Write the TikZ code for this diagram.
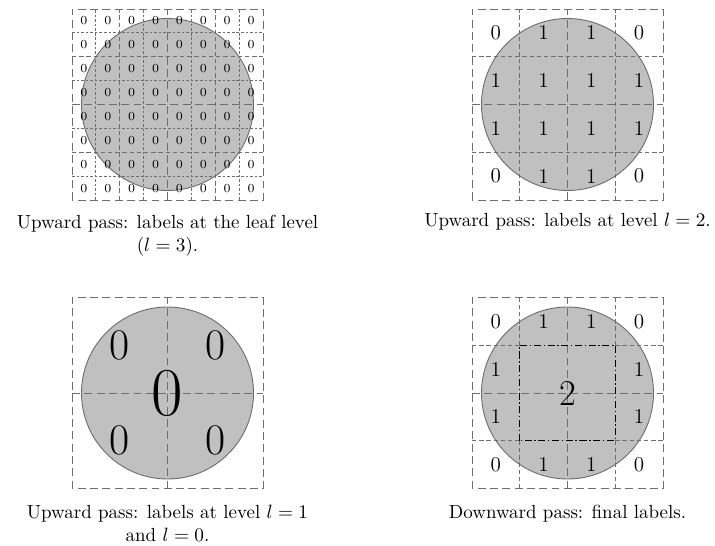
\documentclass[tikz,border=0pt]{standalone}
\usepackage{amsmath,amssymb}
\usetikzlibrary{positioning}
\definecolor{ink}{HTML}{000000}
\definecolor{gridgray}{HTML}{6E6E6E}
\definecolor{discfill}{HTML}{C0C0C0}
\definecolor{discedge}{HTML}{6A6A6A}
\definecolor{paper}{HTML}{FFFFFF}
\tikzset{
  disc/.style={draw=discedge,fill=discfill,line width=0.5pt},
  lvlone/.style={draw=gridgray,line width=0.55pt,dash pattern=on 4.5pt off 2.5pt},
  lvltwo/.style={draw=gridgray,line width=0.5pt,dash pattern=on 2.5pt off 1.6pt},
  lvlthree/.style={draw=gridgray,line width=0.45pt,dash pattern=on 1.5pt off 1.1pt},
  mergebox/.style={draw=ink,line width=0.6pt,dash pattern=on 4pt off 1.5pt on 0.8pt off 1.5pt},
  frame/.style={minimum size=3.82cm,inner sep=0pt,outer sep=0pt},
  caption/.style={align=center,inner sep=0pt,font=\fontsize{10.8}{13}\selectfont},
  leaflab/.style={font=\scriptsize,inner sep=0pt},
  midlab/.style={font=\large,inner sep=0pt},
  toplab/.style={font=\Huge,inner sep=0pt},
  rootlab/.style={font=\fontsize{39}{40}\selectfont,inner sep=0pt}
}

\begin{document}
\begin{tikzpicture}[x=1cm,y=1cm]
  \useasboundingbox[fill=paper] (0,0) rectangle (14.3,-10.92);

  % leaf level, l = 3
  \begin{scope}[shift={(1.44,-4.00)}]
    \fill[disc] (1.91,1.91) circle (1.72);
    \foreach \p in {0.4775,1.4325,2.3875,3.3425} {
      \draw[lvlthree] (\p,0) -- (\p,3.82);
      \draw[lvlthree] (0,\p) -- (3.82,\p);
    }
    \foreach \p in {0.955,2.865} {
      \draw[lvltwo] (\p,0) -- (\p,3.82);
      \draw[lvltwo] (0,\p) -- (3.82,\p);
    }
    \draw[lvlone] (0,0) rectangle (3.82,3.82);
    \draw[lvlone] (1.91,0) -- (1.91,3.82) (0,1.91) -- (3.82,1.91);
    \node[frame] (frameA) at (1.91,1.91) {};
    \foreach \i in {0,...,7}
      \foreach \j in {0,...,7}
        \node[leaflab] (a-\i-\j) at ({(\i+0.5)*0.4775},{(\j+0.5)*0.4775}) {0};
  \end{scope}
  \node[caption,below=0.3cm of frameA] (capA)
    {Upward pass: labels at the leaf level\\($l=3$).};

  % level l = 2
  \begin{scope}[shift={(9.44,-4.00)}]
    \fill[disc] (1.91,1.91) circle (1.72);
    \foreach \p in {0.955,2.865} {
      \draw[lvltwo] (\p,0) -- (\p,3.82);
      \draw[lvltwo] (0,\p) -- (3.82,\p);
    }
    \draw[lvlone] (0,0) rectangle (3.82,3.82);
    \draw[lvlone] (1.91,0) -- (1.91,3.82) (0,1.91) -- (3.82,1.91);
    \node[frame] (frameB) at (1.91,1.91) {};
    \foreach \j/\labs in {3/{0,1,1,0},2/{1,1,1,1},1/{1,1,1,1},0/{0,1,1,0}}
      \foreach \v [count=\i from 0] in \labs
        \node[midlab] (b-\i-\j) at ({(\i+0.5)*0.955},{(\j+0.5)*0.955}) {\v};
  \end{scope}
  \node[caption,below=0.26cm of frameB] (capB)
    {Upward pass: labels at level $l=2$.};

  % levels l = 1 and l = 0
  \begin{scope}[shift={(1.44,-9.77)}]
    \fill[disc] (1.91,1.91) circle (1.72);
    \draw[lvlone] (0,0) rectangle (3.82,3.82);
    \draw[lvlone] (1.91,0) -- (1.91,3.82) (0,1.91) -- (3.82,1.91);
    \node[frame] (frameC) at (1.91,1.91) {};
    \foreach \i in {0,1}
      \foreach \j in {0,1}
        \node[toplab] (c-\i-\j) at ({(\i+0.5)*1.91},{(\j+0.5)*1.91}) {0};
    \node[rootlab] (croot) at (1.91,1.91) {0};
  \end{scope}
  \node[caption,below=0.32cm of frameC] (capC)
    {Upward pass: labels at level $l=1$\\and $l=0$.};

  % downward pass
  \begin{scope}[shift={(9.44,-9.77)}]
    \fill[disc] (1.91,1.91) circle (1.72);
    \foreach \p in {0.955,2.865} {
      \draw[lvltwo] (\p,0) -- (\p,0.955) (\p,2.865) -- (\p,3.82);
      \draw[lvltwo] (0,\p) -- (0.955,\p) (2.865,\p) -- (3.82,\p);
    }
    \draw[lvlone] (0,0) rectangle (3.82,3.82);
    \draw[lvlone] (1.91,0) -- (1.91,3.82) (0,1.91) -- (3.82,1.91);
    \draw[mergebox] (0.955,0.955) rectangle (2.865,2.865);
    \node[frame] (frameD) at (1.91,1.91) {};
    \foreach \j/\labs in {3/{0,1,1,0},0/{0,1,1,0}}
      \foreach \v [count=\i from 0] in \labs
        \node[midlab] (d-\i-\j) at ({(\i+0.5)*0.955},{(\j+0.5)*0.955}) {\v};
    \foreach \i in {0,3}
      \foreach \j in {1,2}
        \node[midlab] (d-\i-\j) at ({(\i+0.5)*0.955},{(\j+0.5)*0.955}) {1};
    \node[font=\huge,inner sep=0pt] (droot) at (1.91,1.91) {2};
  \end{scope}
  \node[caption,below=0.32cm of frameD] (capD)
    {Downward pass: final labels.};
\end{tikzpicture}
\end{document}
